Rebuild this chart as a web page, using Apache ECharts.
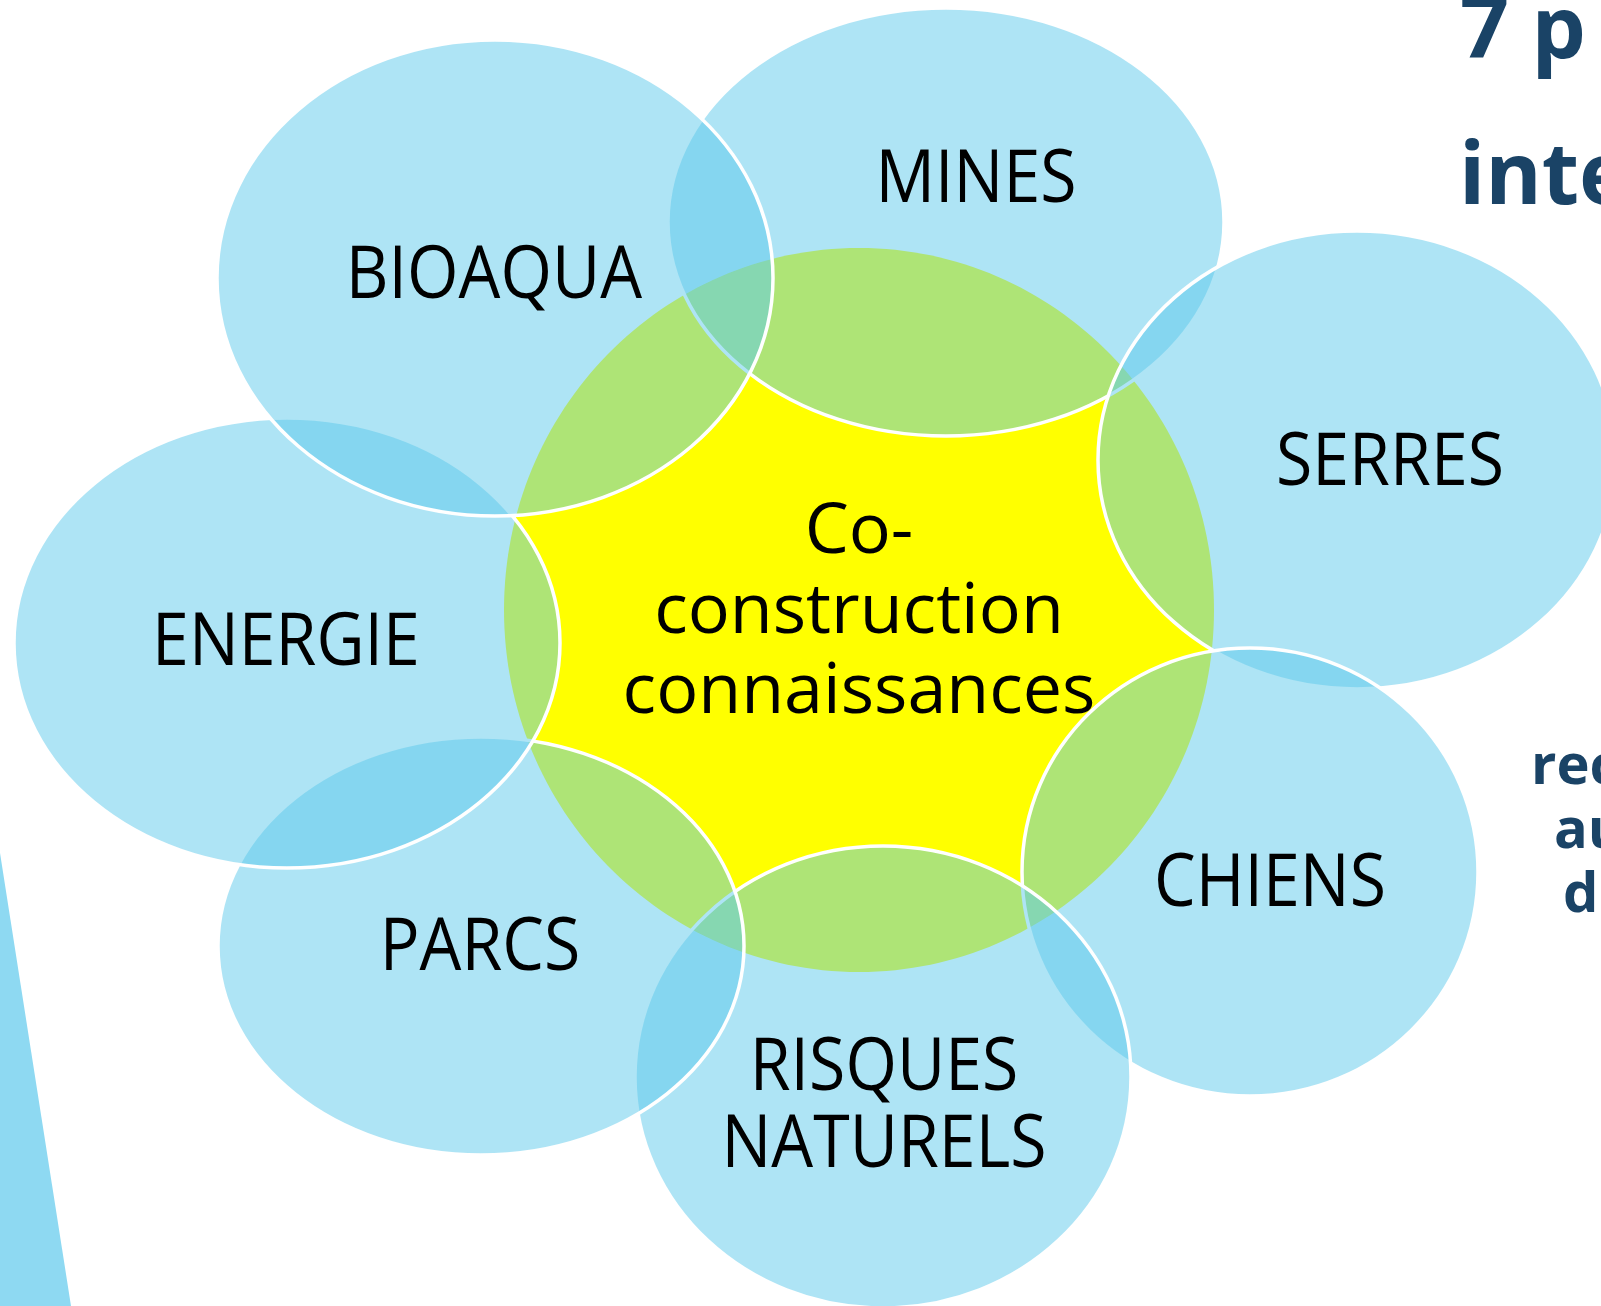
<!DOCTYPE html>
<html style="height: 100%">
<head>
<meta charset="utf-8">
<title>Co-construction connaissances</title>
<script src="https://cdn.jsdelivr.net/npm/echarts@6/dist/echarts.min.js"></script>
</head>
<body style="height: 100%; margin: 0; background: #fff">
<div id="container" style="width: 1601px; height: 1306px"></div>
<script type="text/javascript">

// petals in drawing order: each one covers the white edge of the one before
const petalNames = ['MINES', 'SERRES', 'CHIENS', 'RISQUES\nNATURELS', 'PARCS', 'ENERGIE', 'BIOAQUA'];
const petalX = [946, 1357, 1250, 883, 481, 287, 495];
const petalY = [222, 460, 872, 1077, 946, 643, 278];
const petalRx = [278, 259, 228, 248, 263, 273, 278];
const petalRy = [214, 229, 224, 231, 209, 225, 238];
const labelX = [976, 1390, 1270, 884, 480, 286, 494];
const labelY = [181, 464, 885, 1107, 949, 644, 277];

// the yellow heart
const centerName = 'Co-\nconstruction\nconnaissances';
const centerX = [859];
const centerY = [610];
const centerRx = [355];
const centerRy = [362];
const centerLabelY = [613];

// blue wedge in the lower-left corner
const wedgeX = [0, 71, 0];
const wedgeY = [853, 1306, 1306];

const dom = document.getElementById('container');
const chart = echarts.init(dom, null, { renderer: 'canvas' });

function renderOval(fill, stroke) {
  return function (params, api) {
    const c = api.coord([api.value(0), api.value(1)]);
    const s = api.size([api.value(2) * 2, api.value(3) * 2]);
    return {
      type: 'ellipse',
      z2: params.dataIndex,
      shape: { cx: c[0], cy: c[1], rx: s[0] / 2, ry: s[1] / 2 },
      style: { fill: fill, stroke: stroke, lineWidth: stroke ? 3.5 : 0 }
    };
  };
}

function renderLabel(font, size, scaleX, lineHeight, texts) {
  return function (params, api) {
    const c = api.coord([api.value(0), api.value(1)]);
    return {
      type: 'text',
      x: c[0],
      y: c[1],
      scaleX: scaleX,
      style: {
        text: texts[params.dataIndex],
        font: size + 'px ' + font,
        fill: '#000',
        align: 'center',
        verticalAlign: 'middle',
        lineHeight: lineHeight
      }
    };
  };
}

const labelFont = '"Open Sans", "Noto Sans", sans-serif';
const navy = '#1a4366';

chart.setOption({
  animation: false,
  grid: { left: 0, right: 0, top: 0, bottom: 0 },
  xAxis: { type: 'value', min: 0, max: 1601, show: false },
  yAxis: { type: 'value', min: 0, max: 1306, inverse: true, show: false },
  graphic: [
    { type: 'text', x: 1460, y: 33, style: { text: '7 p', font: 'bold 86px ' + labelFont, fill: navy, verticalAlign: 'middle' } },
    { type: 'text', x: 1459, y: 179, style: { text: 'inte', font: 'bold 86px ' + labelFont, fill: navy, verticalAlign: 'middle' } },
    { type: 'text', x: 1531, y: 768, style: { text: 'rec', font: 'bold 56px ' + labelFont, fill: navy, verticalAlign: 'middle' } },
    { type: 'text', x: 1554, y: 832, style: { text: 'au', font: 'bold 56px ' + labelFont, fill: navy, verticalAlign: 'middle' } },
    { type: 'text', x: 1563, y: 896, style: { text: 'de', font: 'bold 56px ' + labelFont, fill: navy, verticalAlign: 'middle' } }
  ],
  series: [
    {
      type: 'custom',
      z: 1,
      silent: true,
      renderItem: renderOval('#ffff00', null),
      data: centerX.map((x, i) => [x, centerY[i], centerRx[i], centerRy[i]])
    },
    {
      type: 'custom',
      z: 2,
      silent: true,
      renderItem: renderOval('rgba(93,201,235,0.5)', '#ffffff'),
      data: petalX.map((x, i) => [x, petalY[i], petalRx[i], petalRy[i]])
    },
    {
      type: 'custom',
      z: 3,
      silent: true,
      renderItem: renderLabel(labelFont, 74, 0.895, 77, petalNames),
      data: labelX.map((x, i) => [x, labelY[i]])
    },
    {
      type: 'custom',
      z: 3,
      silent: true,
      renderItem: renderLabel(labelFont, 70, 1.0, 80, [centerName]),
      data: centerX.map((x, i) => [x, centerLabelY[i]])
    },
    {
      type: 'custom',
      z: 3,
      silent: true,
      renderItem: function (params, api) {
        const pts = wedgeX.map((x, i) => api.coord([x, wedgeY[i]]));
        return { type: 'polygon', shape: { points: pts }, style: { fill: '#8ed9f2' } };
      },
      data: [[0, 0]]
    }
  ]
});

</script>
</body>
</html>
